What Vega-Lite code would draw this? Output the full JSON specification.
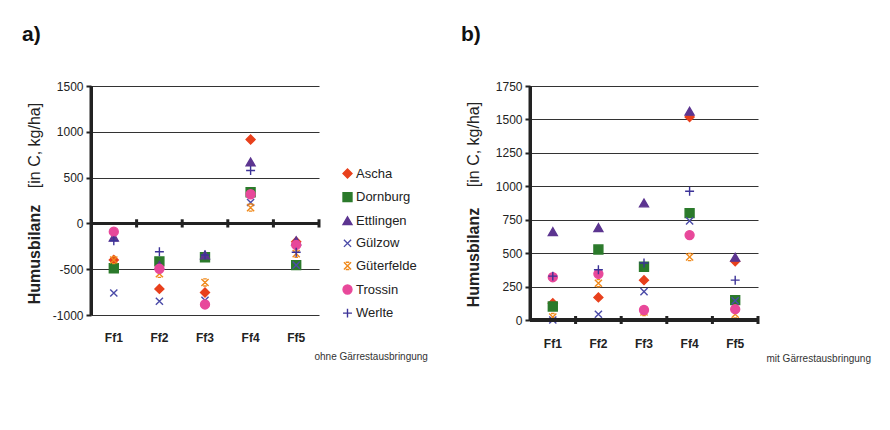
{
  "$schema": "https://vega.github.io/schema/vega-lite/v6.json",
  "background": "white",
  "padding": {"left": 22, "top": 24, "right": 10, "bottom": 10},
  "spacing": 33,
  "align": "none",
  "config": {
    "view": {"stroke": null},
    "font": "Liberation Sans",
    "axis": {"labelFont": "Liberation Sans", "titleFont": "Liberation Sans", "labelColor": "#222", "titleColor": "#222"},
    "legend": {"labelFont": "Liberation Sans"}
  },
  "datasets": {
    "humus": [
      {"panel": "a", "cat": "Ff1", "site": "Ascha", "value": -400},
      {"panel": "a", "cat": "Ff2", "site": "Ascha", "value": -715},
      {"panel": "a", "cat": "Ff3", "site": "Ascha", "value": -755},
      {"panel": "a", "cat": "Ff4", "site": "Ascha", "value": 915},
      {"panel": "a", "cat": "Ff5", "site": "Ascha", "value": -200},
      {"panel": "a", "cat": "Ff1", "site": "Dornburg", "value": -490},
      {"panel": "a", "cat": "Ff2", "site": "Dornburg", "value": -415},
      {"panel": "a", "cat": "Ff3", "site": "Dornburg", "value": -370},
      {"panel": "a", "cat": "Ff4", "site": "Dornburg", "value": 340},
      {"panel": "a", "cat": "Ff5", "site": "Dornburg", "value": -455},
      {"panel": "a", "cat": "Ff1", "site": "Ettlingen", "value": -150},
      {"panel": "a", "cat": "Ff2", "site": "Ettlingen", "value": -460},
      {"panel": "a", "cat": "Ff3", "site": "Ettlingen", "value": -345},
      {"panel": "a", "cat": "Ff4", "site": "Ettlingen", "value": 670},
      {"panel": "a", "cat": "Ff5", "site": "Ettlingen", "value": -190},
      {"panel": "a", "cat": "Ff1", "site": "Gülzow", "value": -760},
      {"panel": "a", "cat": "Ff2", "site": "Gülzow", "value": -850},
      {"panel": "a", "cat": "Ff3", "site": "Gülzow", "value": -840},
      {"panel": "a", "cat": "Ff4", "site": "Gülzow", "value": 228},
      {"panel": "a", "cat": "Ff5", "site": "Gülzow", "value": -455},
      {"panel": "a", "cat": "Ff1", "site": "Güterfelde", "value": -400},
      {"panel": "a", "cat": "Ff2", "site": "Güterfelde", "value": -550},
      {"panel": "a", "cat": "Ff3", "site": "Güterfelde", "value": -645},
      {"panel": "a", "cat": "Ff4", "site": "Güterfelde", "value": 173},
      {"panel": "a", "cat": "Ff5", "site": "Güterfelde", "value": -330},
      {"panel": "a", "cat": "Ff1", "site": "Trossin", "value": -90},
      {"panel": "a", "cat": "Ff2", "site": "Trossin", "value": -495},
      {"panel": "a", "cat": "Ff3", "site": "Trossin", "value": -885},
      {"panel": "a", "cat": "Ff4", "site": "Trossin", "value": 318},
      {"panel": "a", "cat": "Ff5", "site": "Trossin", "value": -235},
      {"panel": "a", "cat": "Ff1", "site": "Werlte", "value": -190},
      {"panel": "a", "cat": "Ff2", "site": "Werlte", "value": -310},
      {"panel": "a", "cat": "Ff3", "site": "Werlte", "value": -345},
      {"panel": "a", "cat": "Ff4", "site": "Werlte", "value": 578},
      {"panel": "a", "cat": "Ff5", "site": "Werlte", "value": -315},
      {"panel": "b", "cat": "Ff1", "site": "Ascha", "value": 125},
      {"panel": "b", "cat": "Ff2", "site": "Ascha", "value": 169},
      {"panel": "b", "cat": "Ff3", "site": "Ascha", "value": 298},
      {"panel": "b", "cat": "Ff4", "site": "Ascha", "value": 1518},
      {"panel": "b", "cat": "Ff5", "site": "Ascha", "value": 439},
      {"panel": "b", "cat": "Ff1", "site": "Dornburg", "value": 101},
      {"panel": "b", "cat": "Ff2", "site": "Dornburg", "value": 527},
      {"panel": "b", "cat": "Ff3", "site": "Dornburg", "value": 398},
      {"panel": "b", "cat": "Ff4", "site": "Dornburg", "value": 799},
      {"panel": "b", "cat": "Ff5", "site": "Dornburg", "value": 149},
      {"panel": "b", "cat": "Ff1", "site": "Ettlingen", "value": 661},
      {"panel": "b", "cat": "Ff2", "site": "Ettlingen", "value": 691},
      {"panel": "b", "cat": "Ff3", "site": "Ettlingen", "value": 875},
      {"panel": "b", "cat": "Ff4", "site": "Ettlingen", "value": 1561},
      {"panel": "b", "cat": "Ff5", "site": "Ettlingen", "value": 469},
      {"panel": "b", "cat": "Ff1", "site": "Gülzow", "value": 0},
      {"panel": "b", "cat": "Ff2", "site": "Gülzow", "value": 43},
      {"panel": "b", "cat": "Ff3", "site": "Gülzow", "value": 212},
      {"panel": "b", "cat": "Ff4", "site": "Gülzow", "value": 741},
      {"panel": "b", "cat": "Ff5", "site": "Gülzow", "value": 144},
      {"panel": "b", "cat": "Ff1", "site": "Güterfelde", "value": 22},
      {"panel": "b", "cat": "Ff2", "site": "Güterfelde", "value": 275},
      {"panel": "b", "cat": "Ff3", "site": "Güterfelde", "value": 60},
      {"panel": "b", "cat": "Ff4", "site": "Güterfelde", "value": 471},
      {"panel": "b", "cat": "Ff5", "site": "Güterfelde", "value": 43},
      {"panel": "b", "cat": "Ff1", "site": "Trossin", "value": 320},
      {"panel": "b", "cat": "Ff2", "site": "Trossin", "value": 345},
      {"panel": "b", "cat": "Ff3", "site": "Trossin", "value": 75},
      {"panel": "b", "cat": "Ff4", "site": "Trossin", "value": 635},
      {"panel": "b", "cat": "Ff5", "site": "Trossin", "value": 81},
      {"panel": "b", "cat": "Ff1", "site": "Werlte", "value": 328},
      {"panel": "b", "cat": "Ff2", "site": "Werlte", "value": 376},
      {"panel": "b", "cat": "Ff3", "site": "Werlte", "value": 426},
      {"panel": "b", "cat": "Ff4", "site": "Werlte", "value": 963},
      {"panel": "b", "cat": "Ff5", "site": "Werlte", "value": 298}
    ]
  },
  "data": {"name": "humus"},
  "hconcat": [
    {
      "width": 228,
      "height": 229,
      "title": {"text": "a)", "anchor": "start", "frame": "group", "dx": -69, "offset": 35, "fontSize": 21, "fontWeight": "bold", "font": "Liberation Sans", "color": "#111"},
      "transform": [{"filter": "datum.panel === 'a'"}],
      "layer": [
        {
          "mark": {"type": "point", "filled": true, "strokeWidth": 1.4, "opacity": 1},
          "encoding": {
            "x": {"field": "cat", "type": "nominal", "scale": {"type": "band", "paddingInner": 0, "paddingOuter": 0},
              "axis": {"orient": "bottom", "domain": false, "ticks": false, "grid": false, "labelAngle": 0, "labelFontSize": 12, "labelFontWeight": "bold", "labelPadding": 17, "labelBaseline": "top",
                "title": "ohne Gärrestausbringung", "titleFontSize": 10, "titleFontWeight": "normal", "titleColor": "#333", "titleX": 223, "titleY": 41, "titleAlign": "left", "titleAnchor": "start", "titleBaseline": "middle"}},
            "y": {"field": "value", "type": "quantitative", "scale": {"domain": [-1000, 1500], "nice": false, "zero": false},
              "axis": {"orient": "left", "values": [-1000, -500, 0, 500, 1000, 1500], "labelExpr": "'' + datum.value", "grid": true, "gridColor": "#333", "gridWidth": 1, "domain": true, "domainWidth": 3, "domainColor": "#222", "ticks": true, "tickColor": "#222", "tickWidth": 2, "tickSize": 5, "labelFontSize": 12, "labelPadding": 3,
                "title": "Humusbilanz", "titleFontSize": 16, "titleFontWeight": "bold", "titleX": -57, "titleY": 168, "titleAngle": -90, "titleAlign": "center", "titleBaseline": "middle"}},
            "shape": {"field": "site", "type": "nominal",
              "scale": {"domain": ["Ascha", "Dornburg", "Ettlingen", "Gülzow", "Güterfelde", "Trossin", "Werlte"],
                "range": ["diamond", "square", "triangle-up", "M-0.8,-0.8L0.8,0.8M-0.8,0.8L0.8,-0.8", "M-0.8,-0.8L0.8,0.8M-0.8,0.8L0.8,-0.8M-0.4,-0.8L0.4,-0.8M-0.4,0.8L0.4,0.8", "circle", "M-1,0L1,0M0,-1L0,1"]},
              "legend": {"orient": "none", "legendX": 250, "legendY": 81, "title": null, "labelFontSize": 13, "labelColor": "#222", "rowPadding": 8.6, "symbolSize": 80, "symbolStrokeWidth": 1.4, "labelOffset": 2}},
            "fill": {"field": "site", "type": "nominal",
              "scale": {"domain": ["Ascha", "Dornburg", "Ettlingen", "Gülzow", "Güterfelde", "Trossin", "Werlte"],
                "range": ["#e8401c", "#2b7a2b", "#5c3590", "#4b4ba8", "#f08a1c", "#e8489a", "#3c3398"]},
              "legend": {"orient": "none", "legendX": 250, "legendY": 81, "title": null, "labelFontSize": 13, "labelColor": "#222", "rowPadding": 8.6, "symbolSize": 80, "symbolStrokeWidth": 1.4, "labelOffset": 2}},
            "stroke": {"field": "site", "type": "nominal",
              "scale": {"domain": ["Ascha", "Dornburg", "Ettlingen", "Gülzow", "Güterfelde", "Trossin", "Werlte"],
                "range": ["#e8401c", "#2b7a2b", "#5c3590", "#4b4ba8", "#f08a1c", "#e8489a", "#3c3398"]},
              "legend": {"orient": "none", "legendX": 250, "legendY": 81, "title": null, "labelFontSize": 13, "labelColor": "#222", "rowPadding": 8.6, "symbolSize": 80, "symbolStrokeWidth": 1.4, "labelOffset": 2}},
            "size": {"value": 80}
          }
        },
        {
          "mark": {"type": "rule", "strokeWidth": 3, "color": "#222"},
          "encoding": {
            "y": {"datum": 0, "type": "quantitative",
              "axis": {"orient": "left", "labels": false, "ticks": false, "domain": false, "grid": false, "title": "[in C, kg/ha]", "titleFontSize": 16, "titleFontWeight": "normal", "titleX": -57, "titleY": 59, "titleAngle": -90, "titleAlign": "center", "titleBaseline": "middle"}}
          }
        },
        {
          "transform": [{"aggregate": [{"op": "count", "as": "n"}], "groupby": ["cat"]}],
          "mark": {"type": "rule", "strokeWidth": 3, "color": "#222"},
          "encoding": {
            "x": {"field": "cat", "type": "nominal", "bandPosition": 1},
            "y": {"datum": -45, "type": "quantitative", "axis": null},
            "y2": {"datum": 45}
          }
        },
        {
          "transform": [{"filter": "datum.cat === 'Ff1'"}, {"aggregate": [{"op": "count", "as": "n"}], "groupby": ["cat"]}],
          "mark": {"type": "rule", "strokeWidth": 3, "color": "#222"},
          "encoding": {
            "x": {"field": "cat", "type": "nominal", "bandPosition": 0},
            "y": {"datum": -1000, "type": "quantitative", "axis": null},
            "y2": {"datum": 1500}
          }
        }
      ],
      "resolve": {"axis": {"y": "independent"}}
    },
    {
      "width": 228,
      "height": 234,
      "title": {"text": "b)", "anchor": "start", "frame": "group", "dx": -69, "offset": 35, "fontSize": 21, "fontWeight": "bold", "font": "Liberation Sans", "color": "#111"},
      "transform": [{"filter": "datum.panel === 'b'"}],
      "layer": [
        {
          "mark": {"type": "point", "filled": true, "strokeWidth": 1.4, "opacity": 1},
          "encoding": {
            "x": {"field": "cat", "type": "nominal", "scale": {"type": "band", "paddingInner": 0, "paddingOuter": 0},
              "axis": {"orient": "bottom", "domain": false, "ticks": false, "grid": false, "labelAngle": 0, "labelFontSize": 12, "labelFontWeight": "bold", "labelPadding": 18, "labelBaseline": "top",
                "title": "mit Gärrestausbringung", "titleFontSize": 10, "titleFontWeight": "normal", "titleColor": "#333", "titleX": 236, "titleY": 38.5, "titleAlign": "left", "titleAnchor": "start", "titleBaseline": "middle"}},
            "y": {"field": "value", "type": "quantitative", "scale": {"domain": [0, 1750], "nice": false},
              "axis": {"orient": "left", "values": [0, 250, 500, 750, 1000, 1250, 1500, 1750], "labelExpr": "'' + datum.value", "grid": true, "gridColor": "#333", "gridWidth": 1, "domain": true, "domainWidth": 3, "domainColor": "#222", "ticks": true, "tickColor": "#222", "tickWidth": 2, "tickSize": 5, "labelFontSize": 12, "labelPadding": 3,
                "title": "Humusbilanz", "titleFontSize": 16, "titleFontWeight": "bold", "titleX": -57, "titleY": 171, "titleAngle": -90, "titleAlign": "center", "titleBaseline": "middle"}},
            "shape": {"field": "site", "type": "nominal",
              "scale": {"domain": ["Ascha", "Dornburg", "Ettlingen", "Gülzow", "Güterfelde", "Trossin", "Werlte"],
                "range": ["diamond", "square", "triangle-up", "M-0.8,-0.8L0.8,0.8M-0.8,0.8L0.8,-0.8", "M-0.8,-0.8L0.8,0.8M-0.8,0.8L0.8,-0.8M-0.4,-0.8L0.4,-0.8M-0.4,0.8L0.4,0.8", "circle", "M-1,0L1,0M0,-1L0,1"]},
              "legend": {"orient": "none", "legendX": 256, "legendY": 76, "title": null, "labelFontSize": 13, "labelColor": "#222", "rowPadding": 9.3, "symbolSize": 80, "symbolStrokeWidth": 1.4, "labelOffset": 2}},
            "fill": {"field": "site", "type": "nominal",
              "scale": {"domain": ["Ascha", "Dornburg", "Ettlingen", "Gülzow", "Güterfelde", "Trossin", "Werlte"],
                "range": ["#e8401c", "#2b7a2b", "#5c3590", "#4b4ba8", "#f08a1c", "#e8489a", "#3c3398"]},
              "legend": {"orient": "none", "legendX": 256, "legendY": 76, "title": null, "labelFontSize": 13, "labelColor": "#222", "rowPadding": 9.3, "symbolSize": 80, "symbolStrokeWidth": 1.4, "labelOffset": 2}},
            "stroke": {"field": "site", "type": "nominal",
              "scale": {"domain": ["Ascha", "Dornburg", "Ettlingen", "Gülzow", "Güterfelde", "Trossin", "Werlte"],
                "range": ["#e8401c", "#2b7a2b", "#5c3590", "#4b4ba8", "#f08a1c", "#e8489a", "#3c3398"]},
              "legend": {"orient": "none", "legendX": 256, "legendY": 76, "title": null, "labelFontSize": 13, "labelColor": "#222", "rowPadding": 9.3, "symbolSize": 80, "symbolStrokeWidth": 1.4, "labelOffset": 2}},
            "size": {"value": 80}
          }
        },
        {
          "mark": {"type": "rule", "strokeWidth": 3, "color": "#222"},
          "encoding": {
            "y": {"datum": 0, "type": "quantitative",
              "axis": {"orient": "left", "labels": false, "ticks": false, "domain": false, "grid": false, "title": "[in C, kg/ha]", "titleFontSize": 16, "titleFontWeight": "normal", "titleX": -57, "titleY": 58, "titleAngle": -90, "titleAlign": "center", "titleBaseline": "middle"}}
          }
        },
        {
          "transform": [{"aggregate": [{"op": "count", "as": "n"}], "groupby": ["cat"]}],
          "mark": {"type": "rule", "strokeWidth": 3, "color": "#222"},
          "encoding": {
            "x": {"field": "cat", "type": "nominal", "bandPosition": 1},
            "y": {"datum": -30, "type": "quantitative", "axis": null},
            "y2": {"datum": 30}
          }
        },
        {
          "transform": [{"filter": "datum.cat === 'Ff1'"}, {"aggregate": [{"op": "count", "as": "n"}], "groupby": ["cat"]}],
          "mark": {"type": "rule", "strokeWidth": 3, "color": "#222"},
          "encoding": {
            "x": {"field": "cat", "type": "nominal", "bandPosition": 0},
            "y": {"datum": 0, "type": "quantitative", "axis": null},
            "y2": {"datum": 1750}
          }
        }
      ],
      "resolve": {"axis": {"y": "independent"}}
    }
  ]
}
